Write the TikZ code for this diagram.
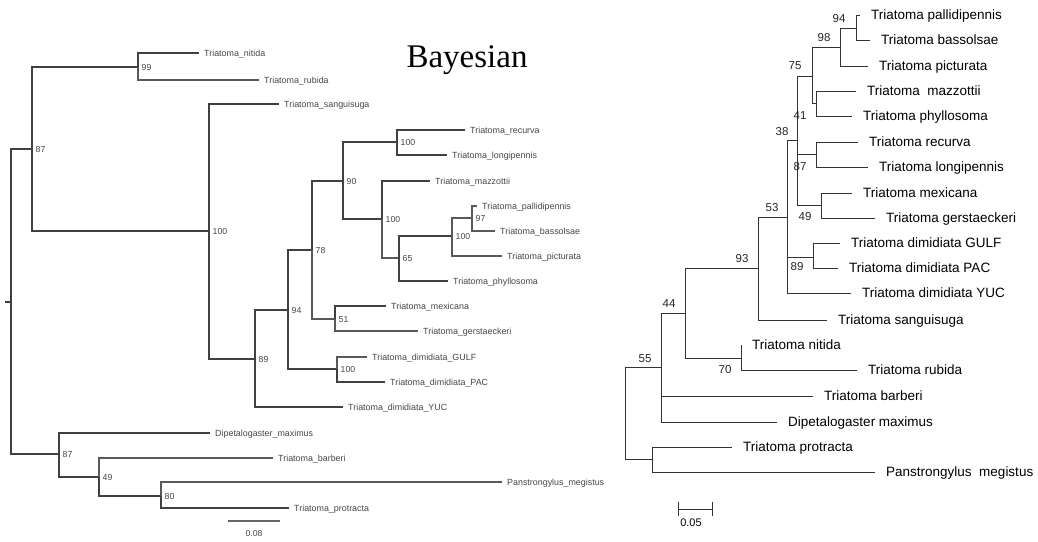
\documentclass[tikz,border=0pt]{standalone}
\usepackage{fontspec}
\setmainfont{Liberation Serif}
\newfontfamily\arial{Liberation Sans}
\begin{document}
\begin{tikzpicture}[x=1pt,y=-1pt,
  lt/.style={line width=1.5pt, draw=black!75},
  ltt/.style={line width=1.2pt, draw=black!65},
  ltip/.style={anchor=base west, inner sep=0pt, xshift=5pt, yshift=-3.2pt, font=\arial\fontsize{8.9}{10}\selectfont, text=black!72},
  lbs/.style={anchor=base west, inner sep=0pt, xshift=3.5pt, yshift=-3.1pt, font=\arial\fontsize{8.7}{10}\selectfont, text=black!72},
  rt/.style={line width=0.9pt, draw=black!80},
  rtip/.style={anchor=base west, inner sep=0pt, xshift=11pt, yshift=-4.8pt, font=\arial\fontsize{13.5}{15}\selectfont},
  rbs/.style={inner sep=0pt, font=\arial\fontsize{11.5}{13}\selectfont, text=black!85},
]
\useasboundingbox (0,0) rectangle (1038,541);
\fill[white] (0,0) rectangle (1038,541);

% ---------------- title
\node[anchor=base, inner sep=0pt, font=\fontsize{33}{38}\selectfont] (title) at (467,67) {Bayesian};

% ---------------- left tree: internal nodes
\coordinate (Ls) at (5,302);
\coordinate (L0) at (11,302);
\coordinate (La) at (32,149);
\coordinate (Lb) at (59,454);
\coordinate (L99) at (138,67);
\coordinate (L100a) at (209,231);
\coordinate (L89) at (255,359);
\coordinate (L94) at (288,310);
\coordinate (L78) at (312,250);
\coordinate (L90) at (343,181);
\coordinate (L100r) at (397,142);
\coordinate (L100m) at (382,219);
\coordinate (L65) at (399,258);
\coordinate (L100p) at (452,236);
\coordinate (L97) at (472,218);
\coordinate (L51) at (335,319);
\coordinate (L100d) at (337,369);
\coordinate (L49) at (99,477);
\coordinate (L80) at (161,496);

% left tips
\coordinate (tNit) at (199,53);
\coordinate (tRub) at (259,80);
\coordinate (tSan) at (279,104);
\coordinate (tRec) at (465,130);
\coordinate (tLon) at (447,155);
\coordinate (tMaz) at (430,181);
\coordinate (tPal) at (477,206);
\coordinate (tBas) at (495,231);
\coordinate (tPic) at (502,256);
\coordinate (tPhy) at (448,281);
\coordinate (tMex) at (386,306);
\coordinate (tGer) at (418,331);
\coordinate (tGul) at (367,357);
\coordinate (tPac) at (385,382);
\coordinate (tYuc) at (343,407);
\coordinate (tDip) at (210,433);
\coordinate (tBar) at (273,458);
\coordinate (tMeg) at (502,482);
\coordinate (tPro) at (289,508);

% left edges
\draw[lt] (Ls) -- (L0);
\draw[lt] (L0) |- (La);
\draw[lt] (L0) |- (Lb);
\draw[lt] (La) |- (L99);
\draw[lt] (La) |- (L100a);
\draw[lt] (L99) |- (tNit);
\draw[ltt] (L99) |- (tRub);
\draw[lt] (L100a) |- (tSan);
\draw[lt] (L100a) |- (L89);
\draw[lt] (L89) |- (L94);
\draw[lt] (L89) |- (tYuc);
\draw[lt] (L94) |- (L78);
\draw[lt] (L94) |- (L100d);
\draw[lt] (L78) |- (L90);
\draw[ltt] (L78) |- (L51);
\draw[lt] (L90) |- (L100r);
\draw[lt] (L90) |- (L100m);
\draw[lt] (L100r) |- (tRec);
\draw[lt] (L100r) |- (tLon);
\draw[lt] (L100m) |- (tMaz);
\draw[ltt] (L100m) |- (L65);
\draw[lt] (L65) |- (L100p);
\draw[lt] (L65) |- (tPhy);
\draw[ltt] (L100p) |- (L97);
\draw[ltt] (L100p) |- (tPic);
\draw[ltt] (L97) |- (tPal);
\draw[ltt] (L97) |- (tBas);
\draw[lt] (L51) |- (tMex);
\draw[ltt] (L51) |- (tGer);
\draw[ltt] (L100d) |- (tGul);
\draw[lt] (L100d) |- (tPac);
\draw[lt] (Lb) |- (tDip);
\draw[lt] (Lb) |- (L49);
\draw[ltt] (L49) |- (tBar);
\draw[lt] (L49) |- (L80);
\draw[ltt] (L80) |- (tMeg);
\draw[lt] (L80) |- (tPro);

% left tip labels
\node[ltip] (nNit) at (tNit) {Triatoma\_nitida};
\node[ltip] (nRub) at (tRub) {Triatoma\_rubida};
\node[ltip] (nSan) at (tSan) {Triatoma\_sanguisuga};
\node[ltip] (nRec) at (tRec) {Triatoma\_recurva};
\node[ltip] (nLon) at (tLon) {Triatoma\_longipennis};
\node[ltip] (nMaz) at (tMaz) {Triatoma\_mazzottii};
\node[ltip] (nPal) at (tPal) {Triatoma\_pallidipennis};
\node[ltip] (nBas) at (tBas) {Triatoma\_bassolsae};
\node[ltip] (nPic) at (tPic) {Triatoma\_picturata};
\node[ltip] (nPhy) at (tPhy) {Triatoma\_phyllosoma};
\node[ltip] (nMex) at (tMex) {Triatoma\_mexicana};
\node[ltip] (nGer) at (tGer) {Triatoma\_gerstaeckeri};
\node[ltip] (nGul) at (tGul) {Triatoma\_dimidiata\_GULF};
\node[ltip] (nPac) at (tPac) {Triatoma\_dimidiata\_PAC};
\node[ltip] (nYuc) at (tYuc) {Triatoma\_dimidiata\_YUC};
\node[ltip] (nDip) at (tDip) {Dipetalogaster\_maximus};
\node[ltip] (nBar) at (tBar) {Triatoma\_barberi};
\node[ltip] (nMeg) at (tMeg) {Panstrongylus\_megistus};
\node[ltip] (nPro) at (tPro) {Triatoma\_protracta};

% left support values
\node[lbs] (bLa) at (La) {87};
\node[lbs] (bLb) at (Lb) {87};
\node[lbs] (bL99) at (L99) {99};
\node[lbs] (bL100a) at (L100a) {100};
\node[lbs] (bL89) at (L89) {89};
\node[lbs] (bL94) at (L94) {94};
\node[lbs] (bL78) at (L78) {78};
\node[lbs] (bL90) at (L90) {90};
\node[lbs] (bL100r) at (L100r) {100};
\node[lbs] (bL100m) at (L100m) {100};
\node[lbs] (bL65) at (L65) {65};
\node[lbs] (bL100p) at (L100p) {100};
\node[lbs] (bL97) at (L97) {97};
\node[lbs] (bL51) at (L51) {51};
\node[lbs] (bL100d) at (L100d) {100};
\node[lbs] (bL49) at (L49) {49};
\node[lbs] (bL80) at (L80) {80};

% left scale bar
\coordinate (sbl1) at (228,521);
\coordinate (sbl2) at (280,521);
\draw[line width=1.2pt, draw=black!60] (sbl1) -- (sbl2);
\node[inner sep=0pt, font=\arial\fontsize{8.7}{10}\selectfont, text=black!72] (sbl) at (254,533) {0.08};

% ---------------- right tree: internal nodes
\coordinate (R0) at (625,413);
\coordinate (RM) at (661,367);
\coordinate (RL) at (685,313);
\coordinate (RJ) at (758,268);
\coordinate (RI) at (787,217);
\coordinate (RG) at (797,140);
\coordinate (RD) at (812,76);
\coordinate (RB) at (840,47);
\coordinate (RA) at (856,28);
\coordinate (RC) at (816,103);
\coordinate (RE) at (816,154);
\coordinate (RF) at (821,205);
\coordinate (RH) at (813,257);
\coordinate (RK) at (741,358);
\coordinate (RN) at (652,459);

% right tips
\coordinate (uPal) at (860,15);
\coordinate (uBas) at (870,40);
\coordinate (uPic) at (868,66);
\coordinate (uMaz) at (856,91);
\coordinate (uPhy) at (852,116);
\coordinate (uRec) at (858,142);
\coordinate (uLon) at (868,167);
\coordinate (uMex) at (852,193);
\coordinate (uGer) at (875,218);
\coordinate (uGul) at (840,243);
\coordinate (uPac) at (838,268);
\coordinate (uYuc) at (851,293);
\coordinate (uSan) at (827,320);
\coordinate (uNit) at (741,345);
\coordinate (uRub) at (857,370);
\coordinate (uBar) at (813,396);
\coordinate (uDip) at (777,422);
\coordinate (uPro) at (732,447);
\coordinate (uMeg) at (875,472);

% right edges
\draw[rt] (R0) |- (RM);
\draw[rt] (R0) |- (RN);
\draw[rt] (RM) |- (RL);
\draw[rt] (RM) |- (uBar);
\draw[rt] (RM) |- (uDip);
\draw[rt] (RL) |- (RJ);
\draw[rt] (RL) |- (RK);
\draw[rt] (RJ) |- (RI);
\draw[rt] (RJ) |- (uSan);
\draw[rt] (RI) |- (RG);
\draw[rt] (RI) |- (RH);
\draw[rt] (RI) |- (uYuc);
\draw[rt] (RG) |- (RD);
\draw[rt] (RG) |- (RE);
\draw[rt] (RG) |- (RF);
\draw[rt] (RD) |- (RB);
\draw[rt] (RD) |- (RC);
\draw[rt] (RB) |- (RA);
\draw[rt] (RB) |- (uPic);
\draw[rt] (RA) |- (uPal);
\draw[rt] (RA) |- (uBas);
\draw[rt] (RC) |- (uMaz);
\draw[rt] (RC) |- (uPhy);
\draw[rt] (RE) |- (uRec);
\draw[rt] (RE) |- (uLon);
\draw[rt] (RF) |- (uMex);
\draw[rt] (RF) |- (uGer);
\draw[rt] (RH) |- (uGul);
\draw[rt] (RH) |- (uPac);
\draw[rt] (RK) |- (uNit);
\draw[rt] (RK) |- (uRub);
\draw[rt] (RN) |- (uPro);
\draw[rt] (RN) |- (uMeg);

% right tip labels
\node[rtip] (mPal) at (uPal) {Triatoma pallidipennis};
\node[rtip] (mBas) at (uBas) {Triatoma bassolsae};
\node[rtip] (mPic) at (uPic) {Triatoma picturata};
\node[rtip] (mMaz) at (uMaz) {Triatoma\ \ mazzottii};
\node[rtip] (mPhy) at (uPhy) {Triatoma phyllosoma};
\node[rtip] (mRec) at (uRec) {Triatoma recurva};
\node[rtip] (mLon) at (uLon) {Triatoma longipennis};
\node[rtip] (mMex) at (uMex) {Triatoma mexicana};
\node[rtip] (mGer) at (uGer) {Triatoma gerstaeckeri};
\node[rtip] (mGul) at (uGul) {Triatoma dimidiata GULF};
\node[rtip] (mPac) at (uPac) {Triatoma dimidiata PAC};
\node[rtip] (mYuc) at (uYuc) {Triatoma dimidiata YUC};
\node[rtip] (mSan) at (uSan) {Triatoma sanguisuga};
\node[rtip] (mNit) at (uNit) {Triatoma nitida};
\node[rtip] (mRub) at (uRub) {Triatoma rubida};
\node[rtip] (mBar) at (uBar) {Triatoma barberi};
\node[rtip] (mDip) at (uDip) {Dipetalogaster maximus};
\node[rtip] (mPro) at (uPro) {Triatoma protracta};
\node[rtip] (mMeg) at (uMeg) {Panstrongylus\ \ megistus};

% right support values
\node[rbs] (c94) at (839,19) {94};
\node[rbs] (c98) at (824,38) {98};
\node[rbs] (c75) at (795,66) {75};
\node[rbs] (c41) at (800,116) {41};
\node[rbs] (c38) at (782,132) {38};
\node[rbs] (c87) at (800,167) {87};
\node[rbs] (c53) at (772,208) {53};
\node[rbs] (c49) at (805,217) {49};
\node[rbs] (c93) at (742,259) {93};
\node[rbs] (c89) at (797,267) {89};
\node[rbs] (c44) at (669,304) {44};
\node[rbs] (c55) at (645,359) {55};
\node[rbs] (c70) at (725,370) {70};

% right scale bar
\coordinate (sbr1) at (678,509);
\coordinate (sbr2) at (712,509);
\draw[rt] (sbr1) -- (sbr2);
\draw[rt] ([yshift=7pt]sbr1) -- ([yshift=-7pt]sbr1);
\draw[rt] ([yshift=7pt]sbr2) -- ([yshift=-7pt]sbr2);
\node[inner sep=0pt, font=\arial\fontsize{11}{13}\selectfont] (sbr) at (691,523) {0.05};
\end{tikzpicture}
\end{document}
